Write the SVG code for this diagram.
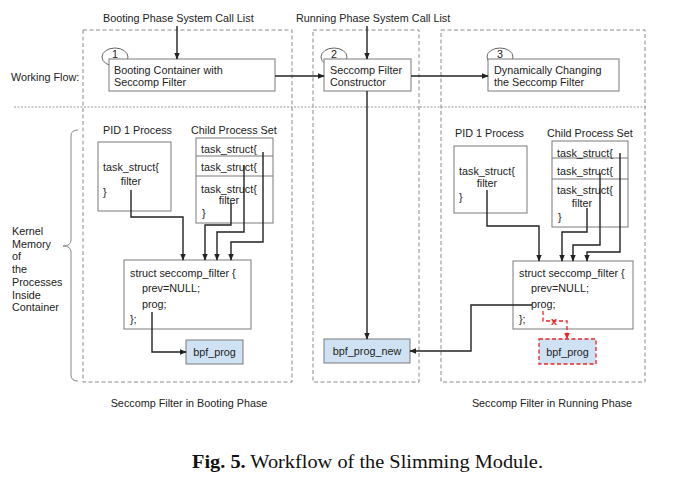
<svg xmlns="http://www.w3.org/2000/svg" width="685" height="480" viewBox="0 0 685 480">
<style>
text{font-family:"Liberation Sans",Arial,sans-serif;font-size:10.8px;fill:#222}
.frame{fill:none;stroke:#8a8a8a;stroke-width:1;stroke-dasharray:4,2.5}
.box{fill:#fff;stroke:#7a7a7a;stroke-width:1}
.blue{fill:#cfe2f3;stroke:#7a7a7a;stroke-width:1}
.ell{fill:#fff;stroke:#666;stroke-width:1}
.con{fill:none;stroke:#222;stroke-width:1.4}
.red{fill:none;stroke:#e8262a;stroke-width:1.3;stroke-dasharray:4,2.5}
.cap{font-family:"Liberation Serif","Times New Roman",serif;font-size:18.5px;fill:#111}
</style>
<defs>
<marker id="ar" viewBox="0 0 10 10" refX="9" refY="5" markerWidth="7" markerHeight="7" orient="auto" markerUnits="userSpaceOnUse"><path d="M0,1 L10,5 L0,9 z" fill="#222"/></marker>
<marker id="arr" viewBox="0 0 10 10" refX="9" refY="5" markerWidth="7" markerHeight="7" orient="auto" markerUnits="userSpaceOnUse"><path d="M0,1 L10,5 L0,9 z" fill="#e8262a"/></marker>
</defs>
<rect width="685" height="480" fill="#fff"/>

<g id="frames">
<rect class="frame" x="83" y="30" width="209" height="352"/>
<rect class="frame" x="313" y="30" width="106" height="352"/>
<rect class="frame" x="441" y="30" width="204" height="352"/>
<line x1="14" y1="107" x2="647" y2="107" stroke="#999" stroke-width="1" stroke-dasharray="2,1.5"/>
</g>

<g id="labels">
<text x="103" y="22">Booting Phase System Call List</text>
<text x="296" y="22">Running Phase System Call List</text>
<text x="11" y="81">Working Flow:</text>
<text x="189" y="407" text-anchor="middle">Seccomp Filter in Booting Phase</text>
<text x="552" y="407" text-anchor="middle">Seccomp Filter in Running Phase</text>
<text x="103" y="134">PID 1 Process</text>
<text x="191" y="134">Child Process Set</text>
<text x="455" y="137">PID 1 Process</text>
<text x="547" y="137">Child Process Set</text>
</g>

<g id="kernel-memory">
<path d="M78,130 Q71,130 71,136 V240 Q71,246 63,246 Q71,246 71,252 V375 Q71,381 78,381" fill="none" stroke="#888" stroke-width="1"/>
<text x="12" y="235">Kernel</text>
<text x="12" y="248">Memory</text>
<text x="12" y="260">of</text>
<text x="12" y="273">the</text>
<text x="12" y="286">Processes</text>
<text x="12" y="299">Inside</text>
<text x="12" y="311">Container</text>
</g>

<g id="step1">
<ellipse class="ell" cx="115" cy="57" rx="13" ry="9"/>
<rect class="box" x="109" y="59" width="166" height="32"/>
<text x="112" y="58">1</text>
<text x="114" y="74">Booting Container with</text>
<text x="114" y="86">Seccomp Filter</text>
</g>
<g id="step2">
<ellipse class="ell" cx="334" cy="57" rx="13" ry="9"/>
<rect class="box" x="324" y="59" width="87" height="32"/>
<text x="331" y="58">2</text>
<text x="330" y="74">Seccomp Filter</text>
<text x="330" y="86">Constructor</text>
</g>
<g id="step3">
<ellipse class="ell" cx="500" cy="57" rx="13" ry="9"/>
<rect class="box" x="488" y="59" width="131" height="32"/>
<text x="497" y="58">3</text>
<text x="494" y="74">Dynamically Changing</text>
<text x="494" y="86">the Seccomp Filter</text>
</g>

<g id="boot-pid1">
<rect class="box" x="98" y="142" width="73" height="69"/>
<text x="103" y="171">task_struct{</text>
<text x="131" y="185" text-anchor="middle">filter</text>
<text x="103" y="196">}</text>
</g>
<g id="boot-children">
<rect class="box" x="196" y="138" width="77" height="85"/>
<line x1="196" y1="156" x2="273" y2="156" stroke="#7a7a7a"/>
<line x1="196" y1="176" x2="273" y2="176" stroke="#7a7a7a"/>
<text x="201" y="153">task_struct{</text>
<text x="201" y="171">task_struct{</text>
<text x="201" y="193">task_struct{</text>
<text x="229" y="204" text-anchor="middle">filter</text>
<text x="202" y="217">}</text>
</g>
<g id="boot-filter">
<rect class="box" x="124" y="260" width="127" height="69"/>
<text x="130" y="277">struct seccomp_filter {</text>
<text x="142" y="292">prev=NULL;</text>
<text x="142" y="308">prog;</text>
<text x="130" y="323">};</text>
</g>
<g id="boot-bpf">
<rect class="blue" x="186" y="340" width="57" height="24"/>
<text x="214.5" y="356" text-anchor="middle">bpf_prog</text>
</g>

<g id="bpf-new">
<rect class="blue" x="324" y="339" width="86" height="24"/>
<text x="367" y="355" text-anchor="middle">bpf_prog_new</text>
</g>

<g id="run-pid1">
<rect class="box" x="454" y="146" width="73" height="67"/>
<text x="459" y="175">task_struct{</text>
<text x="487" y="187" text-anchor="middle">filter</text>
<text x="459" y="201">}</text>
</g>
<g id="run-children">
<rect class="box" x="552" y="141" width="76" height="86"/>
<line x1="552" y1="158" x2="628" y2="158" stroke="#7a7a7a"/>
<line x1="552" y1="179" x2="628" y2="179" stroke="#7a7a7a"/>
<text x="557" y="157">task_struct{</text>
<text x="557" y="175">task_struct{</text>
<text x="557" y="194">task_struct{</text>
<text x="582" y="207" text-anchor="middle">filter</text>
<text x="558" y="221">}</text>
</g>
<g id="run-filter">
<rect class="box" x="513" y="261" width="120" height="68"/>
<text x="519" y="277">struct seccomp_filter {</text>
<text x="531" y="292">prev=NULL;</text>
<text x="531" y="308">prog;</text>
<text x="519" y="323">};</text>
</g>
<g id="run-bpf-old">
<rect x="539" y="339" width="57" height="25" fill="#cfe2f3" stroke="#e8262a" stroke-width="1.3" stroke-dasharray="4,2.5"/>
<text x="567.5" y="356" text-anchor="middle">bpf_prog</text>
</g>

<g id="connectors">
<line class="con" x1="177" y1="26" x2="177" y2="59" marker-end="url(#ar)"/>
<line class="con" x1="367" y1="26" x2="367" y2="59" marker-end="url(#ar)"/>
<line class="con" x1="275" y1="76" x2="324" y2="76" marker-end="url(#ar)"/>
<line class="con" x1="411" y1="76" x2="488" y2="76" marker-end="url(#ar)"/>
<line class="con" x1="367" y1="91" x2="367" y2="339" marker-end="url(#ar)"/>

<polyline class="con" points="131,190 131,217 183,217 183,260" marker-end="url(#ar)"/>
<polyline class="con" points="231,203 231,225 205,225 205,260" marker-end="url(#ar)"/>
<polyline class="con" points="244,165 244,232 217,232 217,260" marker-end="url(#ar)"/>
<polyline class="con" points="263,152 263,242 231,242 231,260" marker-end="url(#ar)"/>
<polyline class="con" points="152,312 152,352 186,352" marker-end="url(#ar)"/>

<polyline class="con" points="487,190 487,226 539,226 539,261" marker-end="url(#ar)"/>
<polyline class="con" points="587,208 587,232 562,232 562,261" marker-end="url(#ar)"/>
<polyline class="con" points="600,173 600,245 573,245 573,261" marker-end="url(#ar)"/>
<polyline class="con" points="620,153 620,252 587,252 587,261" marker-end="url(#ar)"/>
<polyline class="con" points="532,305 471,305 471,351 410,351" marker-end="url(#ar)"/>

<polyline class="red" points="543,311 543,321 567,321 567,339" marker-end="url(#arr)"/>
<text x="554" y="325" text-anchor="middle" font-weight="bold" style="fill:#e8262a" font-size="11">x</text>
</g>

<text class="cap" x="192" y="468" textLength="351" lengthAdjust="spacingAndGlyphs"><tspan font-weight="bold">Fig. 5.</tspan> Workflow of the Slimming Module.</text>
</svg>
